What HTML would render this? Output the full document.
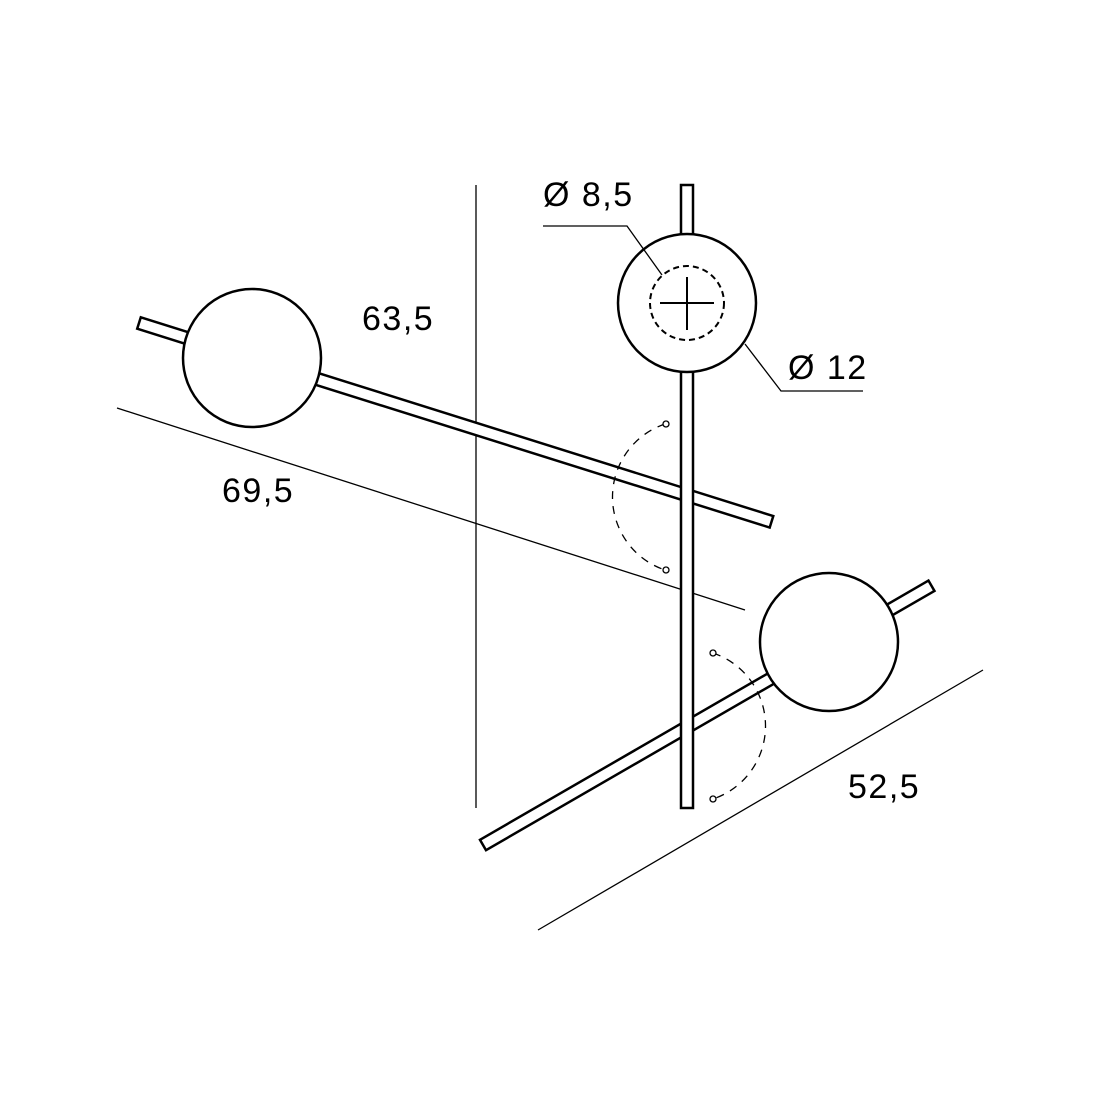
<!DOCTYPE html>
<html><head><meta charset="utf-8"><style>html,body{margin:0;padding:0;background:#fff}svg{display:block}</style></head>
<body>
<svg width="1100" height="1100" viewBox="0 0 1100 1100" xmlns="http://www.w3.org/2000/svg" font-family="Liberation Sans, sans-serif" fill="none" stroke="#000">
<rect width="1100" height="1100" fill="#fff" stroke="none"/>
<line x1="476" y1="185" x2="476" y2="808" stroke-width="1.3"/>
<line x1="117" y1="408" x2="745" y2="610" stroke-width="1.3"/>
<line x1="538" y1="930" x2="983" y2="670" stroke-width="1.3"/>
<rect x="0" y="-6" width="663" height="12" fill="#fff" stroke-width="2.5" transform="translate(139,323) rotate(17.45)"/>
<rect x="0" y="-6" width="518" height="12" fill="#fff" stroke-width="2.5" transform="translate(483,845) rotate(-30.03)"/>
<rect x="681" y="185" width="12" height="623" fill="#fff" stroke-width="2.5"/>
<path d="M665,424 A77,77 0 0 0 665,570" stroke-width="1.3" stroke-dasharray="8,7"/>
<path d="M713,653 A77,77 0 0 1 713,799" stroke-width="1.3" stroke-dasharray="8,7"/>
<circle cx="666" cy="424" r="3" stroke-width="1.3" fill="#fff"/>
<circle cx="666" cy="570" r="3" stroke-width="1.3" fill="#fff"/>
<circle cx="713" cy="653" r="3" stroke-width="1.3" fill="#fff"/>
<circle cx="713" cy="799" r="3" stroke-width="1.3" fill="#fff"/>
<circle cx="252" cy="358" r="69" fill="#fff" stroke-width="2.5"/>
<circle cx="829" cy="642" r="69" fill="#fff" stroke-width="2.5"/>
<circle cx="687" cy="303" r="69" fill="#fff" stroke-width="2.5"/>
<circle cx="687" cy="303" r="37" stroke-width="2" stroke-dasharray="6,4"/>
<line x1="660" y1="303" x2="714" y2="303" stroke-width="2"/>
<line x1="687" y1="277" x2="687" y2="330" stroke-width="2"/>
<polyline points="543,226 627,226 662,275" stroke-width="1.3"/>
<polyline points="745,344 781,391 863,391" stroke-width="1.3"/>
<g fill="#000" stroke="none" font-size="34" letter-spacing="1.5">
<text x="543" y="206">Ø 8,5</text>
<text x="788" y="379">Ø 12</text>
<text x="362" y="330">63,5</text>
<text x="222" y="502">69,5</text>
<text x="848" y="798">52,5</text>
</g>
</svg>
</body></html>
